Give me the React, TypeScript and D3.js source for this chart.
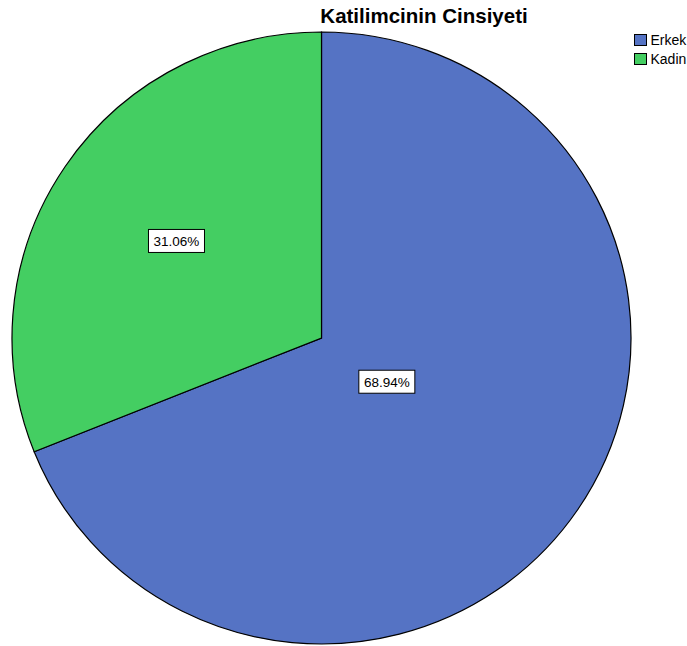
import React from "react";
import * as d3 from "d3";

const title = "Katilimcinin Cinsiyeti";
const categories = ["Erkek", "Kadin"];
const percents = [68.94, 31.06];
const colors = ["#5573c4", "#44ce62"];

const W = 687;
const H = 646;
const cx = 321.5;
const cy = 338;
const rx = 309.5;
const ry = 306;

export default function App() {
  const data = categories.map((c, i) => ({ name: c, value: percents[i], color: colors[i] }));
  const pie = d3.pie<any>().sort(null).value((d) => d.value);
  const arcs = pie(data);
  const arc = d3.arc<any>().innerRadius(0).outerRadius(rx);
  const sy = ry / rx;

  return (
    <svg width={W} height={H} style={{ position: "absolute", left: 0, top: 0, background: "#fff" }}>
      <text x={424} y={23} textAnchor="middle" fontFamily="Liberation Sans, Arial, sans-serif" fontWeight="bold" fontSize={20.5} fill="#000">
        {title}
      </text>
      <g transform={`translate(${cx},${cy}) scale(1,${sy})`}>
        {arcs.map((a, i) => (
          <path key={i} d={arc(a) as string} fill={a.data.color} stroke="#000" strokeWidth={1.2} vectorEffect="non-scaling-stroke" />
        ))}
      </g>
      {arcs.map((a, i) => {
        const alpha = (a.endAngle - a.startAngle) / 2;
        const mid = (a.startAngle + a.endAngle) / 2;
        const dist = (2 * Math.sin(alpha)) / (3 * alpha);
        const lx = cx + Math.sin(mid) * dist * rx;
        const ly = cy - Math.cos(mid) * dist * ry;
        const label = a.data.value.toFixed(2) + "%";
        const bw = 56;
        const bh = 23;
        return (
          <g key={"l" + i}>
            <rect x={lx - bw / 2} y={ly - bh / 2} width={bw} height={bh} fill="#fff" stroke="#000" strokeWidth={1} />
            <text x={lx} y={ly + 5} textAnchor="middle" fontFamily="Liberation Sans, Arial, sans-serif" fontSize={13.5} fill="#000">
              {label}
            </text>
          </g>
        );
      })}
      {data.map((d, i) => (
        <g key={"g" + i} transform={`translate(634.5,${34.5 + i * 19})`}>
          <rect x={0} y={0} width={12} height={11} fill={d.color} stroke="#000" strokeWidth={1} />
          <text x={16} y={10.5} fontFamily="Liberation Sans, Arial, sans-serif" fontSize={14} fill="#000">
            {d.name}
          </text>
        </g>
      ))}
    </svg>
  );
}
